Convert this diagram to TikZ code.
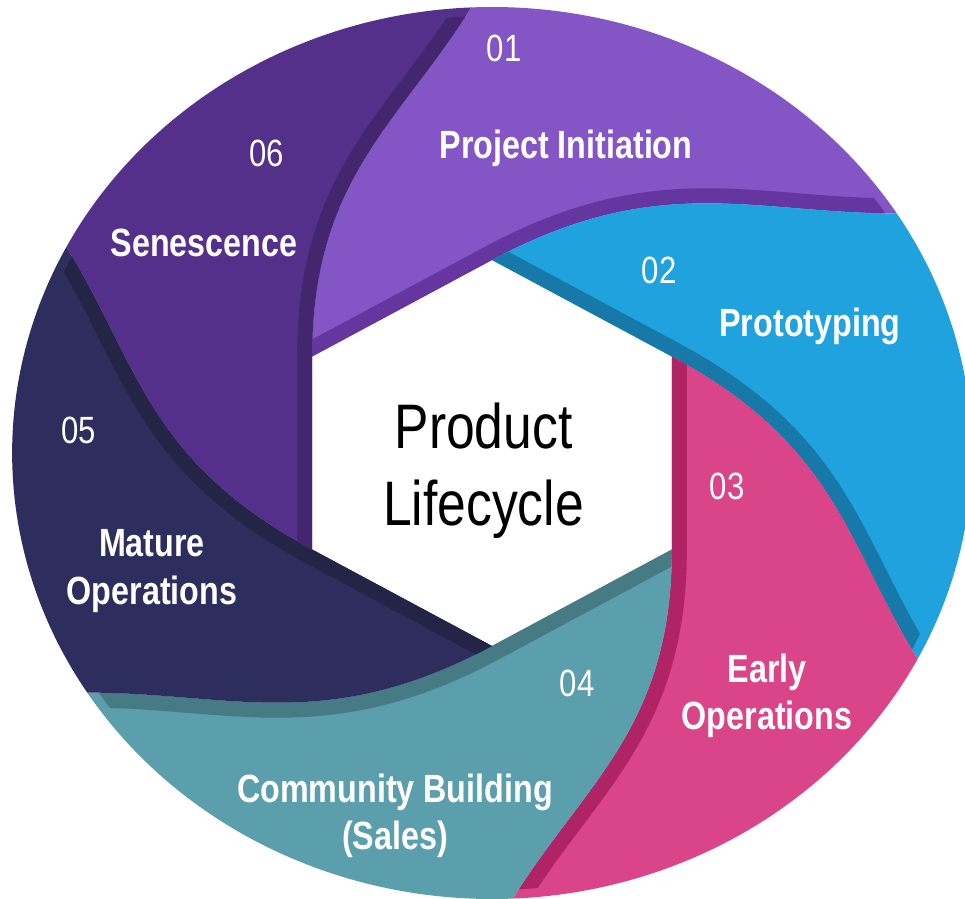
\documentclass[tikz,border=0pt]{standalone}
\usepackage{fontspec}
\setmainfont{Liberation Sans}[FakeStretch=0.82]
\usepackage{tikz}
\definecolor{LCViolet}{HTML}{8455C4}
\definecolor{LCVioletDk}{HTML}{6535A0}
\definecolor{LCBlue}{HTML}{20A2DF}
\definecolor{LCBlueDk}{HTML}{1779A8}
\definecolor{LCPink}{HTML}{DA4488}
\definecolor{LCPinkDk}{HTML}{B02365}
\definecolor{LCTeal}{HTML}{5B9EAC}
\definecolor{LCTealDk}{HTML}{467A84}
\definecolor{LCNavy}{HTML}{2E2E5E}
\definecolor{LCNavyDk}{HTML}{242447}
\definecolor{LCPlum}{HTML}{55308A}
\definecolor{LCPlumDk}{HTML}{43266E}

\begin{document}
\begin{tikzpicture}[
        blade/.style={insert path={(150:1.93) .. controls +(90:1.78) and +(240:1.34) .. (92.5:4.46)
                      arc[start angle=92.5,end angle=32.5,radius=4.46]
                      .. controls +(180:1.34) and +(30:1.78) .. (90:1.93) -- cycle}},
        rim/.style={line width=0.3cm,
                    insert path={(32.5:4.46) .. controls +(180:1.34) and +(30:1.78) .. (90:1.93)
                      -- (150:1.93) -- +(210:0.3)}},
        num/.style={inner sep=0pt,text=white,font=\fontsize{10.8}{13}\selectfont},
        lbl/.style={inner sep=0pt,text=white,align=center,
                    font=\fontsize{11.2}{13.4}\selectfont\bfseries},
        hub/.style={inner sep=0pt,align=center,font=\fontsize{17.9}{21.9}\selectfont}]
        \useasboundingbox (-4.92,-4.45) rectangle (4.73,4.53);
        \clip (-4.92,-4.45) rectangle (4.73,4.53);
        \fill[white] (-4.92,-4.45) rectangle (4.73,4.53);
        % the six blades round the hexagon, each with its darker rim
        \begin{scope}[xscale=1.076]
          \begin{scope}
            \fill[LCViolet,blade];
            \clip[blade]; \clip (0,0) circle (4.37);
            \draw[rim,LCVioletDk];
          \end{scope}
          \begin{scope}[rotate=-60]
            \fill[LCBlue,blade];
            \clip[blade]; \clip (0,0) circle (4.37);
            \draw[rim,LCBlueDk];
          \end{scope}
          \begin{scope}[rotate=-120]
            \fill[LCPink,blade];
            \clip[blade]; \clip (0,0) circle (4.37);
            \draw[rim,LCPinkDk];
          \end{scope}
          \begin{scope}[rotate=-180]
            \fill[LCTeal,blade];
            \clip[blade]; \clip (0,0) circle (4.37);
            \draw[rim,LCTealDk];
          \end{scope}
          \begin{scope}[rotate=-240]
            \fill[LCNavy,blade];
            \clip[blade]; \clip (0,0) circle (4.37);
            \draw[rim,LCNavyDk];
          \end{scope}
          \begin{scope}[rotate=-300]
            \fill[LCPlum,blade];
            \clip[blade]; \clip (0,0) circle (4.37);
            \draw[rim,LCPlumDk];
          \end{scope}
        \end{scope}
        % stage numbers and names
        \node[num] (n01) at (0.12,4.045) {01};
        \node[lbl] (l01) at (0.74,3.045) {Project Initiation};
        \node[num] (n02) at (1.67,1.825) {02};
        \node[lbl] (l02) at (3.18,1.27) {Prototyping};
        \node[num] (n03) at (2.35,-0.335) {03};
        \node[lbl] (l03) at (2.75,-2.425) {Early\\Operations};
        \node[num] (n04) at (0.85,-2.30) {04};
        \node[lbl] (l04) at (-0.97,-3.625) {Community Building\\(Sales)};
        \node[num] (n05) at (-4.13,0.225) {05};
        \node[lbl] (l05) at (-3.40,-1.18) {Mature\\Operations};
        \node[num] (n06) at (-2.25,2.995) {06};
        \node[lbl] (l06) at (-2.88,2.105) {Senescence};
        \node[hub] (hub) at (-0.085,-0.175) {Product\\Lifecycle};
      \end{tikzpicture}
\end{document}
